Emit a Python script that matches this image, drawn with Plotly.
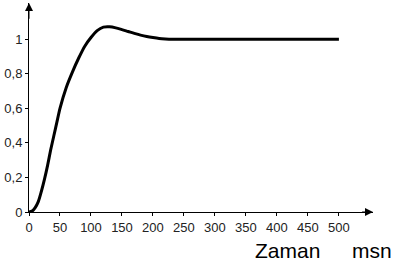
import plotly.graph_objects as go

# Data
t_ms = [0, 5, 10, 15, 20, 25, 30, 35, 40, 45, 50, 60, 70, 80, 90, 100, 110, 120, 130,
        140, 150, 160, 170, 180, 190, 200, 210, 220, 230, 240, 250, 300, 350, 400, 450, 500]
response = [0, 0.005, 0.025, 0.06, 0.12, 0.19, 0.27, 0.36, 0.44, 0.52, 0.60, 0.72, 0.81,
            0.89, 0.96, 1.01, 1.05, 1.07, 1.072, 1.066, 1.056, 1.045, 1.034, 1.024, 1.016,
            1.01, 1.005, 1.002, 1.0, 1.0, 1.0, 1.0, 1.0, 1.0, 1.0, 1.0]
x_ticks = [0, 50, 100, 150, 200, 250, 300, 350, 400, 450, 500]
y_ticks = [0, 0.2, 0.4, 0.6, 0.8, 1]
y_tick_labels = ["0", "0,2", "0,4", "0,6", "0,8", "1"]

X_MAX = 555
Y_MAX = 1.21

fig = go.Figure()
fig.add_trace(go.Scatter(
    x=t_ms, y=response, mode="lines",
    line=dict(color="black", width=3, shape="spline", smoothing=0.7),
    cliponaxis=False, hoverinfo="skip", showlegend=False,
))

font = dict(family="Liberation Sans, Arial, sans-serif", size=13, color="#222")

fig.update_layout(
    width=393, height=266,
    margin=dict(l=29, r=20, t=3, b=54, autoexpand=False),
    paper_bgcolor="white", plot_bgcolor="white",
    showlegend=False,
    xaxis=dict(
        range=[0, X_MAX], showgrid=False, zeroline=False, automargin=False,
        showline=True, linecolor="black", linewidth=1,
        ticks="outside", ticklen=3, tickcolor="black",
        tickvals=x_ticks, ticktext=[str(v) for v in x_ticks],
        tickfont=font, fixedrange=True,
    ),
    yaxis=dict(
        range=[0, Y_MAX], showgrid=False, zeroline=False, automargin=False,
        showline=True, linecolor="black", linewidth=1,
        ticks="outside", ticklen=3, tickcolor="black",
        tickvals=y_ticks, ticktext=y_tick_labels,
        tickfont=font, fixedrange=True,
    ),
)

# arrowheads at the axis ends
fig.add_annotation(x=X_MAX, y=0, ax=X_MAX - 20, ay=0, xref="x", yref="y",
                   axref="x", ayref="y", showarrow=True, arrowhead=2,
                   arrowsize=1.6, arrowwidth=1, arrowcolor="black", text="")
fig.add_annotation(x=0, y=Y_MAX, ax=0, ay=Y_MAX - 0.1, xref="x", yref="y",
                   axref="x", ayref="y", showarrow=True, arrowhead=2,
                   arrowsize=1.6, arrowwidth=1, arrowcolor="black", text="")

label_font = dict(family="Liberation Sans, Arial, sans-serif", size=21, color="black")
fig.add_annotation(text="Zaman", xref="paper", yref="paper", x=0.652, y=-0.185,
                   xanchor="left", yanchor="middle", showarrow=False, font=label_font)
fig.add_annotation(text="msn", xref="paper", yref="paper", x=1.06, y=-0.185,
                   xanchor="right", yanchor="middle", showarrow=False, font=label_font)

fig.write_html("out.html", config={"displayModeBar": False},
               post_script="document.body.style.margin='0';document.body.style.overflow='hidden';")
